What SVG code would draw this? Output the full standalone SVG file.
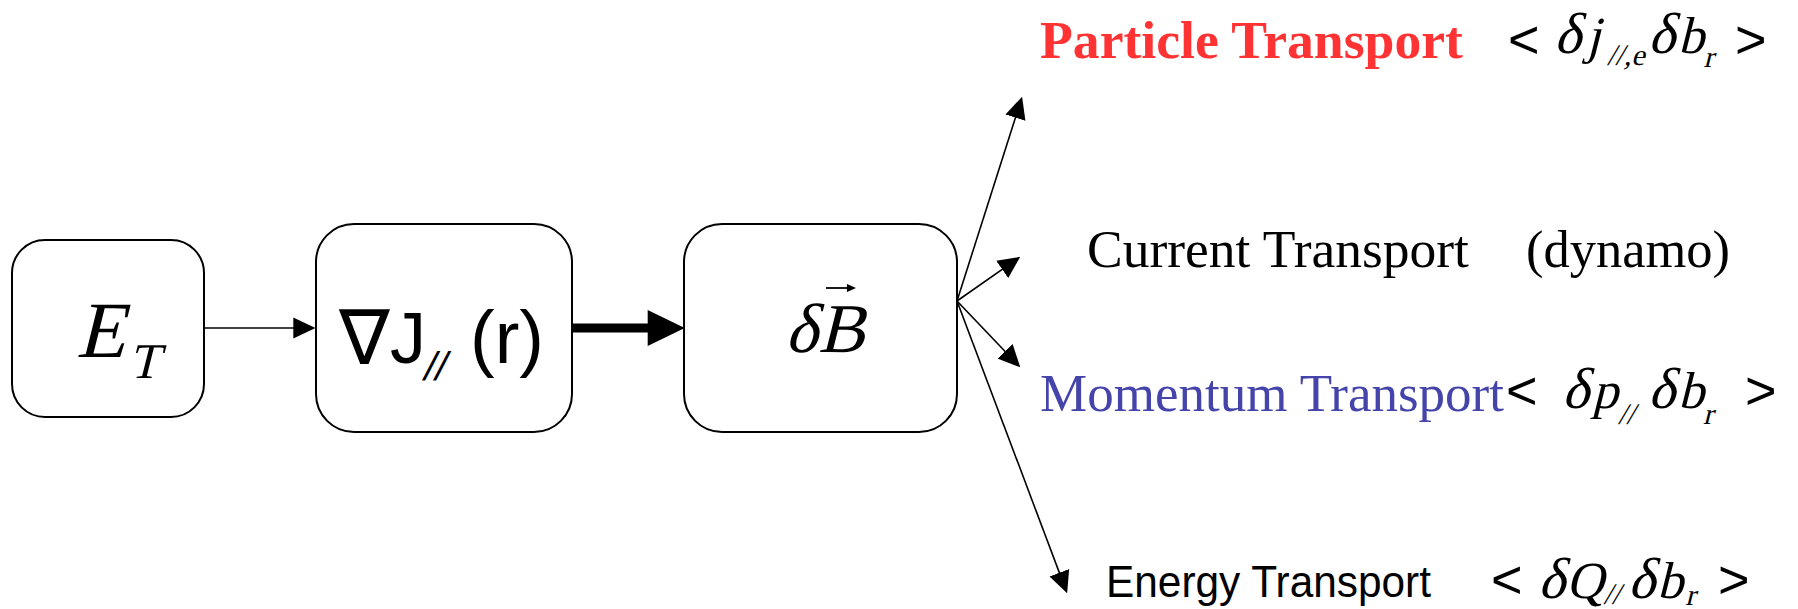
<svg xmlns="http://www.w3.org/2000/svg" width="1798" height="609" viewBox="0 0 1798 609">
<style>
.box{fill:#fff;stroke:#000;stroke-width:2}
.ln{stroke:#000;stroke-width:1.6;fill:none}
.thick{stroke:#000;stroke-width:9;fill:none}
.ser{font-family:"Liberation Serif","Times New Roman",serif}
.sans{font-family:"Liberation Sans",Arial,"DejaVu Sans",sans-serif}
.br{font-family:"Liberation Sans",Arial,sans-serif;font-size:54px}
</style>
<defs>
<marker id="ah" markerUnits="userSpaceOnUse" markerWidth="22" markerHeight="22" viewBox="0 0 21 20" refX="15" refY="10" orient="auto">
<path d="M0,0 L21,10 L0,20 z" fill="#000"/>
</marker>
<marker id="ahBig" markerUnits="userSpaceOnUse" markerWidth="38" markerHeight="36" viewBox="0 0 36 35" refX="10" refY="17.5" orient="auto">
<path d="M0,0 L36,17.5 L0,35 z" fill="#000"/>
</marker>
</defs>

<g id="connectors">
<line class="ln" x1="204" y1="328" x2="309" y2="328" marker-end="url(#ah)"/>
<line class="thick" x1="572" y1="328" x2="658" y2="328" marker-end="url(#ahBig)"/>
<line class="ln" x1="957" y1="301" x2="1020.2" y2="102.7" marker-end="url(#ah)"/>
<line class="ln" x1="957" y1="301" x2="1015.1" y2="260.4" marker-end="url(#ah)"/>
<line class="ln" x1="957" y1="301" x2="1015.9" y2="362.7" marker-end="url(#ah)"/>
<line class="ln" x1="957" y1="301" x2="1064.9" y2="587.4" marker-end="url(#ah)"/>
</g>

<g id="node-ET">
<rect class="box" x="12" y="240" width="192" height="177" rx="33" ry="33"/>
<text class="ser" font-size="80" transform="translate(76,357) skewX(-14)" x="0" y="0">E<tspan font-size="50" x="58" y="21">T</tspan></text>
</g>

<g id="node-gradJ">
<rect class="box" x="316" y="224" width="256" height="208" rx="38" ry="38"/>
<text class="sans" font-size="76" x="339" y="364">∇</text>
<text class="sans" font-size="72" x="390" y="363">J</text>
<text class="sans" font-size="40" transform="translate(422,380) skewX(-14)" x="0" y="0">//</text>
<text class="sans" font-size="74" x="470" y="363">(r)</text>
</g>

<g id="node-dB">
<rect class="box" x="684" y="224" width="273" height="208" rx="38" ry="38"/>
<text class="ser" font-size="70" transform="translate(785,352) skewX(-14)" x="0" y="0">δB</text>
<line x1="826" y1="288" x2="850" y2="288" stroke="#000" stroke-width="1.8"/>
<path d="M847,284 L856,288 L847,292 z" fill="#000"/>
</g>

<g id="label-particle">
<text class="ser" font-weight="bold" font-size="53" fill="#ff3333" x="1040" y="58" textLength="423" lengthAdjust="spacingAndGlyphs">Particle Transport</text>
<text class="br" x="1508" y="58">&lt;</text>
<text class="ser" transform="translate(0,53) skewX(-14)" y="0"><tspan font-size="58" x="1554">δ</tspan><tspan font-size="52" x="1586">j</tspan><tspan font-size="30" x="1610" y="12">//,e</tspan><tspan font-size="58" x="1648" y="0">δ</tspan><tspan font-size="52" x="1678">b</tspan><tspan font-size="30" x="1707" y="14">r</tspan></text>
<text class="br" x="1735" y="58">&gt;</text>
</g>

<g id="label-current">
<text class="ser" font-size="53" x="1087" y="267" textLength="382" lengthAdjust="spacingAndGlyphs">Current Transport</text>
<text class="ser" font-size="53" x="1526" y="267" textLength="204" lengthAdjust="spacingAndGlyphs">(dynamo)</text>
</g>

<g id="label-momentum">
<text class="ser" font-size="53" fill="#4444aa" x="1040" y="411" textLength="464" lengthAdjust="spacingAndGlyphs">Momentum Transport</text>
<text class="br" x="1506" y="409">&lt;</text>
<text class="ser" transform="translate(0,408) skewX(-14)" y="0"><tspan font-size="58" x="1562">δ</tspan><tspan font-size="52" x="1592">p</tspan><tspan font-size="30" x="1622" y="16">//</tspan><tspan font-size="58" x="1648" y="0">δ</tspan><tspan font-size="52" x="1678">b</tspan><tspan font-size="30" x="1707" y="16">r</tspan></text>
<text class="br" x="1745" y="409">&gt;</text>
</g>

<g id="label-energy">
<text class="sans" font-size="44" x="1106" y="597" textLength="325" lengthAdjust="spacingAndGlyphs">Energy Transport</text>
<text class="br" x="1491" y="598">&lt;</text>
<text class="ser" transform="translate(0,598) skewX(-14)" y="0"><tspan font-size="58" x="1538">δ</tspan><tspan font-size="52" x="1566">Q</tspan><tspan font-size="30" x="1605" y="6">//</tspan><tspan font-size="58" x="1628" y="0">δ</tspan><tspan font-size="52" x="1657">b</tspan><tspan font-size="30" x="1687" y="7">r</tspan></text>
<text class="br" x="1718" y="598">&gt;</text>
</g>
</svg>
